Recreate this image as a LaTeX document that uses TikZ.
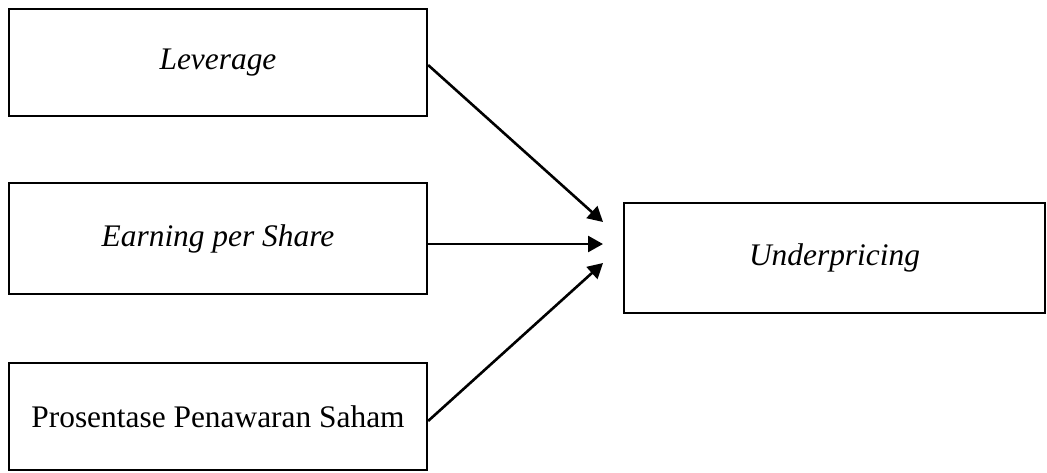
\documentclass[tikz,border=0pt]{standalone}
\usepackage{fontspec}
\setmainfont{Liberation Serif}
\usetikzlibrary{arrows.meta}
\begin{document}
\begin{tikzpicture}[x=0.5pt,y=-0.5pt,
  varbox/.style={draw, line width=1.1pt, rectangle, inner sep=0pt,
    font=\fontsize{15.7}{19}\selectfont},
  link/.style={line width=1.3pt, -{Triangle[length=7.5pt,width=8pt]}}]
  \useasboundingbox (0,0) rectangle (1047,472);
  % independent variables
  \node[varbox, minimum width=209pt, minimum height=53.5pt] (lev) at (218,62.5) {\textit{Leverage}};
  \node[varbox, minimum width=209pt, minimum height=55.5pt] (eps) at (218,238.5) {\textit{Earning per Share}};
  \node[varbox, minimum width=209pt, minimum height=53.5pt] (pps) at (218,416.5) {Prosentase Penawaran Saham};
  % dependent variable
  \node[varbox, minimum width=210.5pt, minimum height=55pt] (und) at (834.5,258) {\textit{Underpricing}};
  % arrow tips stop short of the target box
  \coordinate (t1) at (603,222);
  \coordinate (t2) at (603,244);
  \coordinate (t3) at (603,263);
  \draw[link] ([yshift=-1.25pt]lev.east) -- (t1);
  \draw[link] ([yshift=-2.75pt]eps.east) -- (t2);
  \draw[link] ([yshift=-2.25pt]pps.east) -- (t3);
\end{tikzpicture}
\end{document}
